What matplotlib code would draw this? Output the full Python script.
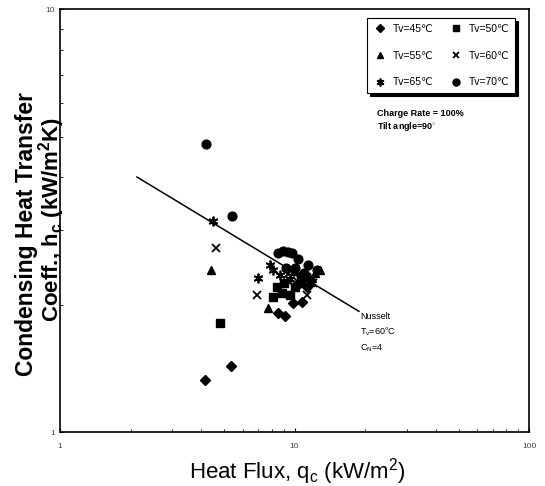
import matplotlib
matplotlib.use("Agg")
import matplotlib.pyplot as plt
from matplotlib.ticker import NullFormatter

plt.rcParams['font.family'] = ['Liberation Sans', 'DejaVu Sans', 'Noto Sans CJK SC']
plt.rcParams['mathtext.fontset'] = 'custom'
plt.rcParams['mathtext.rm'] = 'Liberation Sans'
plt.rcParams['mathtext.it'] = 'Liberation Sans'
plt.rcParams['mathtext.bf'] = 'Liberation Sans:bold'

# heat flux q (kW/m2) and condensing coefficient h (kW/m2K), per vapour temperature
q45 = [4.15, 5.36, 8.51, 9.11, 9.85, 10.76, 11.3]
h45 = [1.33, 1.43, 1.91, 1.88, 2.02, 2.03, 2.20]
q50 = [4.81, 8.42, 8.10, 8.85, 9.57, 9.0, 10.0, 10.6, 11.2]
h50 = [1.81, 2.20, 2.09, 2.13, 2.11, 2.25, 2.20, 2.26, 2.33]
q55 = [4.40, 7.71, 11.0, 12.2, 12.8, 10.5, 11.6, 9.9, 11.9]
h55 = [2.42, 1.97, 2.35, 2.38, 2.42, 2.30, 2.27, 2.40, 2.31]
q60 = [4.63, 6.92, 11.30, 9.4, 10.2, 12.0]
h60 = [2.72, 2.11, 2.11, 2.36, 2.28, 2.25]
q65 = [4.49, 6.99, 7.86, 8.10, 8.7, 9.6, 10.5]
h65 = [3.15, 2.31, 2.48, 2.42, 2.35, 2.30, 2.25]
q70 = [4.19, 5.41, 8.51, 8.93, 9.38, 9.75, 10.35, 11.42, 12.47, 10.0, 11.0, 9.2, 10.7]
h70 = [4.80, 3.24, 2.65, 2.68, 2.66, 2.65, 2.56, 2.48, 2.42, 2.45, 2.38, 2.44, 2.34]

# Nusselt prediction end points
nu_q = [2.13, 18.8]
nu_h = [4.01, 1.93]

fig = plt.figure(figsize=(5.45, 4.86), dpi=100)
ax = fig.add_axes([0.110, 0.111, 0.861, 0.870])

l45, = ax.plot(q45, h45, 'D', color='k', ms=5, label='Tv=45℃')
l50, = ax.plot(q50, h50, 's', color='k', ms=5.5, label='Tv=50℃')
l55, = ax.plot(q55, h55, '^', color='k', ms=6, label='Tv=55℃')
l60, = ax.plot(q60, h60, 'x', color='k', ms=6, mew=1.3, label='Tv=60℃')
l65, = ax.plot(q65, h65, marker=(6, 2, 0), ls='none', color='k', ms=7, mew=1.3, label='Tv=65℃')
l70, = ax.plot(q70, h70, 'o', color='k', ms=6.3, label='Tv=70℃')
ax.plot(nu_q, nu_h, '-', color='k', lw=1.1)

ax.set_xscale('log')
ax.set_yscale('log')
ax.set_xlim(1, 100)
ax.set_ylim(1, 10)
ax.set_xticks([1, 10, 100])
ax.set_xticklabels(['1', '10', '100'])
ax.set_yticks([1, 10])
ax.set_yticklabels(['1', '10'])
ax.xaxis.set_minor_formatter(NullFormatter())
ax.yaxis.set_minor_formatter(NullFormatter())
ax.tick_params(which='both', direction='in', labelsize=6, colors='k', labelcolor='#444444')
ax.tick_params(axis='x', pad=8)
ax.tick_params(which='major', length=3)
ax.tick_params(which='minor', length=2)
for s in ax.spines.values():
    s.set_linewidth(1.2)

# legend filled column by column -> order so rows read 45/50, 55/60, 65/70
handles = [l45, l55, l65, l50, l60, l70]
leg = ax.legend(handles=handles, ncol=2, loc='upper right', bbox_to_anchor=(0.97, 0.979),
                borderaxespad=0, fontsize=7.5, frameon=True, fancybox=False, edgecolor='k',
                shadow={'color': 'k', 'alpha': 1, 'ox': 2, 'oy': -2}, handlelength=1.4,
                handletextpad=0.5, columnspacing=1.5, labelspacing=1.6, borderpad=0.55,
                markerscale=0.8)
leg.get_frame().set_linewidth(0.8)

ax.text(0.675, 0.765, 'Charge Rate = 100%\nTilt angle=90$^{\\circ}$', transform=ax.transAxes,
        fontsize=6.5, fontweight='bold', va='top', linespacing=1.3)
ax.text(19.0, 1.92, 'Nusselt\nT$_v$=60°C\nC$_N$=4', fontsize=6.5, va='top', linespacing=1.5)

fig.text(0.545, 0.029, 'Heat Flux, q$_c$ (kW/m$^2$)', ha='center', va='center', fontsize=16)
fig.text(0.048, 0.518, 'Condensing Heat Transfer', rotation=90, ha='center', va='center',
         fontsize=16.5, fontweight='bold')
fig.text(0.095, 0.548, 'Coeff., h$_\\mathbf{c}$ (kW/m$^\\mathbf{2}$K)', rotation=90, ha='center',
         va='center', fontsize=16, fontweight='bold')

fig.savefig('out.png', dpi=100)
